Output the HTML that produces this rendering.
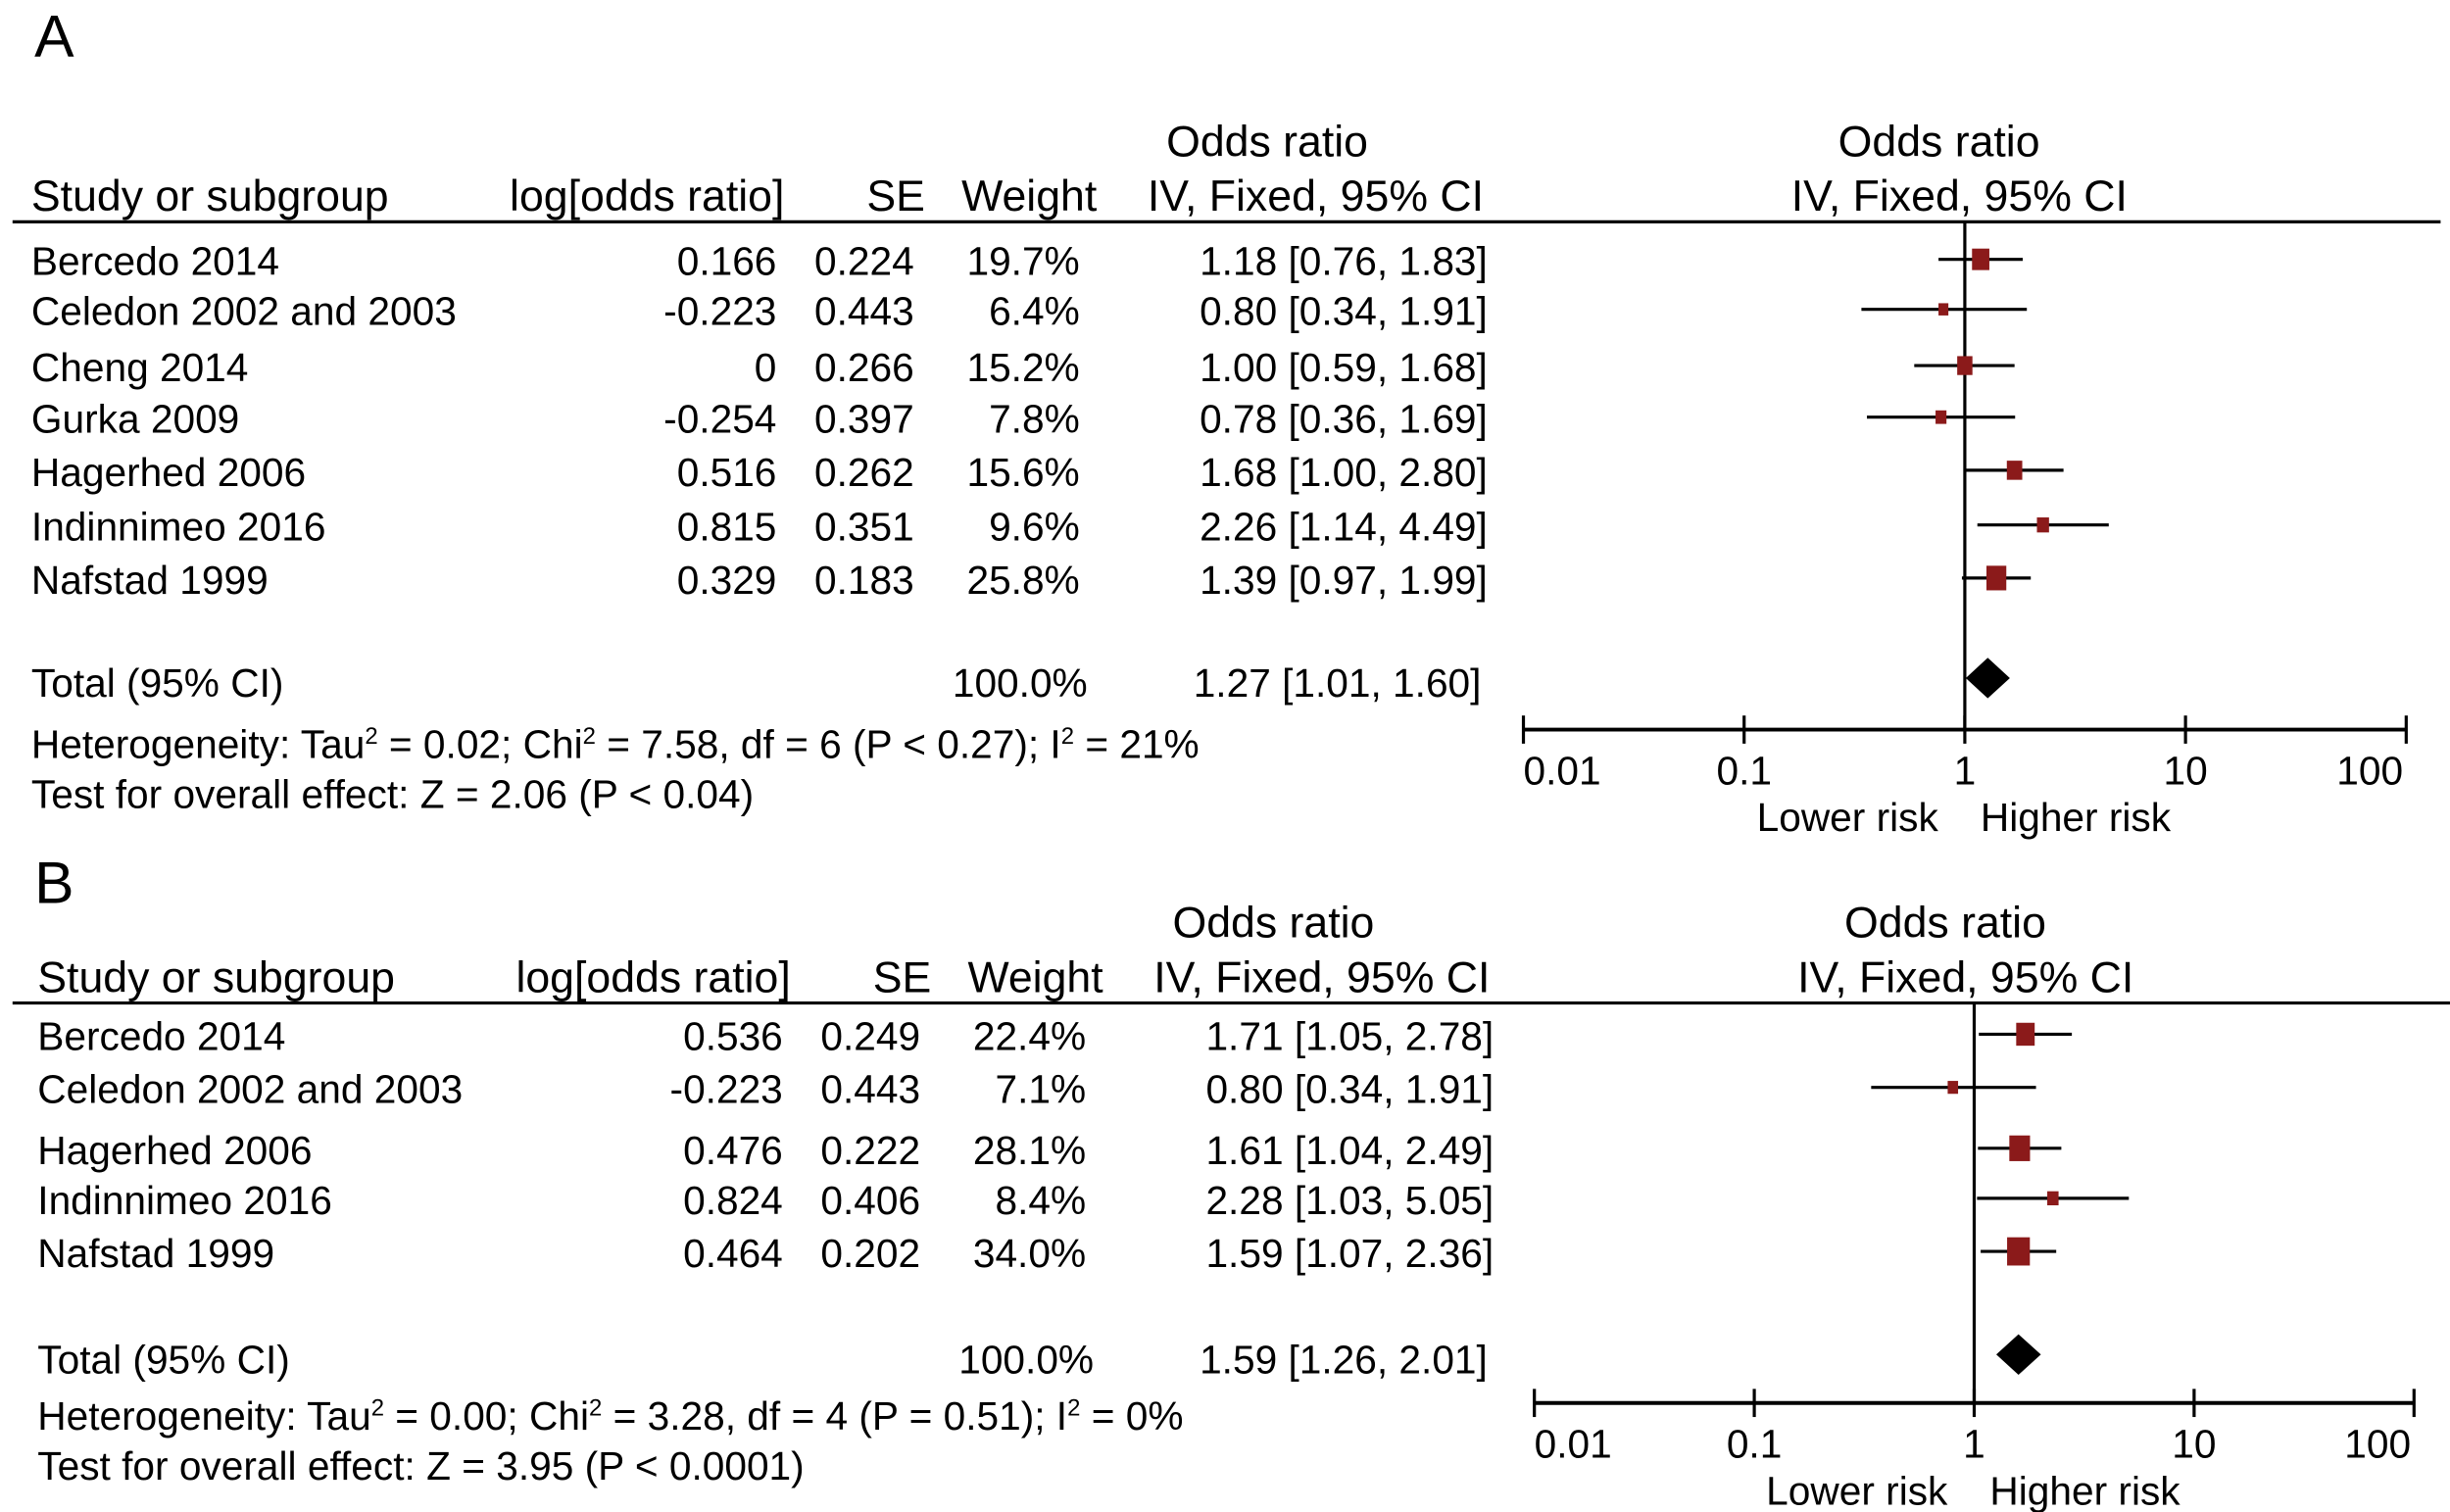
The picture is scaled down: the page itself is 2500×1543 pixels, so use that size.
<!DOCTYPE html>
<html><head><meta charset="utf-8"><style>
html,body{margin:0;padding:0;background:#fff;}
svg{display:block;}
text{font-family:"Liberation Sans",sans-serif;fill:#000;}
</style></head><body>
<svg id="svg" width="2500" height="1543" viewBox="0 0 1568 967.8" xmlns="http://www.w3.org/2000/svg"></svg>
<script>
// Panel A data
const studiesA = ["Bercedo 2014","Celedon 2002 and 2003","Cheng 2014","Gurka 2009","Hagerhed 2006","Indinnimeo 2016","Nafstad 1999"];
const logOrA = ["0.166","-0.223","0","-0.254","0.516","0.815","0.329"];
const seA = ["0.224","0.443","0.266","0.397","0.262","0.351","0.183"];
const weightA = [19.7,6.4,15.2,7.8,15.6,9.6,25.8];
const orA = [1.18,0.80,1.00,0.78,1.68,2.26,1.39];
const loA = [0.76,0.34,0.59,0.36,1.00,1.14,0.97];
const hiA = [1.83,1.91,1.68,1.69,2.80,4.49,1.99];
const totalA = [1.27,1.01,1.60];
// Panel B data
const studiesB = ["Bercedo 2014","Celedon 2002 and 2003","Hagerhed 2006","Indinnimeo 2016","Nafstad 1999"];
const logOrB = ["0.536","-0.223","0.476","0.824","0.464"];
const seB = ["0.249","0.443","0.222","0.406","0.202"];
const weightB = [22.4,7.1,28.1,8.4,34.0];
const orB = [1.71,0.80,1.61,2.28,1.59];
const loB = [1.05,0.34,1.04,1.03,1.07];
const hiB = [2.78,1.91,2.49,5.05,2.36];
const totalB = [1.59,1.26,2.01];
const tickVals = [0.01,0.1,1,10,100];
const tickLabels = ["0.01","0.1","1","10","100"];

const svg = document.getElementById('svg');
const NS = 'http://www.w3.org/2000/svg';
function mk(tag, attrs, parent){const e=document.createElementNS(NS,tag);for(const k in attrs)e.setAttribute(k,attrs[k]);(parent||svg).appendChild(e);return e;}
function txt(s,x,y,size,anchor,name,parent){const t=mk('text',{x:x,y:y,'font-size':size,'text-anchor':anchor||'start'},parent);t.textContent=s;


return t;}
function f2(v){return v.toFixed(2);}

function panel(cfg){
  const g=mk('g',{});
  
  
  const dx=cfg.dx, top=cfg.top;
  txt(cfg.letter,22,cfg.letterY,38,'start','panel-label',g);
  const hl=mk('line',{x1:8,x2:cfg.lineEnd,y1:top,y2:top,stroke:'#000','stroke-width':2},g);
  
  
  const hs=28;
  txt('Study or subgroup',20+dx,top-7,hs,'start','study-header',g);
  txt('log[odds ratio]',502+dx,top-7,hs,'end','log-or-header',g);
  txt('SE',592+dx,top-7,hs,'end','se-header',g);
  txt('Weight',702+dx,top-7,hs,'end','weight-header',g);
  txt('Odds ratio',811+dx,top-42,hs,'middle','or-header',g);
  txt('IV, Fixed, 95% CI',842+dx,top-7,hs,'middle','or-method-header',g);
  txt('Odds ratio',1241+dx,top-42,hs,'middle','plot-or-header',g);
  txt('IV, Fixed, 95% CI',1254+dx,top-7,hs,'middle','plot-method-header',g);
  const fs=25.5;
  const x0=cfg.axX0, x1=cfg.axX1;
  const xs=v=>x0+(Math.log10(v)+2)/4*(x1-x0);
  const x1pos=xs(1);
  const vl=mk('line',{x1:x1pos,x2:x1pos,y1:top,y2:cfg.axY,stroke:'#000','stroke-width':2},g);
  
  
  cfg.names.forEach((n,i)=>{
    const by=cfg.rowY[i];
    txt(n,20+dx,by,fs,'start','study-name',g);
    txt(cfg.logs[i],497+dx,by,fs,'end','log-or-value',g);
    txt(cfg.ses[i],585+dx,by,fs,'end','se-value',g);
    txt(cfg.wts[i].toFixed(1)+'%',691+dx,by,fs,'end','weight-value',g);
    txt(f2(cfg.or[i])+' ['+f2(cfg.lo[i])+', '+f2(cfg.hi[i])+']',952+dx,by,fs,'end','or-ci-value',g);
    const my=by-10;
    const ci=mk('line',{x1:xs(cfg.lo[i]),x2:xs(cfg.hi[i]),y1:my,y2:my,stroke:'#000','stroke-width':2},g);
    
    
    const w=2.5*Math.sqrt(cfg.wts[i]), h=3.1*Math.sqrt(cfg.wts[i]);
    const sq=mk('rect',{x:xs(cfg.or[i])-w/2,y:my-h/2,width:w,height:h,fill:'#8b1a1a'},g);
    
    
  });
  const ty=cfg.totalY;
  txt('Total (95% CI)',20+dx,ty,fs,'start','total-label',g);
  txt('100.0%',696+dx,ty,fs,'end','total-weight',g);
  txt(f2(cfg.total[0])+' ['+f2(cfg.total[1])+', '+f2(cfg.total[2])+']',948+dx,ty,fs,'end','total-or-ci',g);
  const dy=ty-12;
  const d=mk('polygon',{points:[xs(cfg.total[1])+','+dy,xs(cfg.total[0])+','+(dy-13),xs(cfg.total[2])+','+dy,xs(cfg.total[0])+','+(dy+13)].join(' '),fill:'#000'},g);
  
  
  const het=txt('',20+dx,cfg.hetY,fs,'start','heterogeneity-text',g);
  het.innerHTML=cfg.het;
  txt(cfg.test,20+dx,cfg.hetY+32,fs,'start','overall-effect-text',g);
  const ax=mk('line',{x1:x0,x2:x1,y1:cfg.axY,y2:cfg.axY,stroke:'#000','stroke-width':2.5},g);
  
  
  tickVals.forEach((v,i)=>{
    const tk=mk('line',{x1:xs(v),x2:xs(v),y1:cfg.axY-9,y2:cfg.axY+9,stroke:'#000','stroke-width':2},g);
    
    
    const anc=i===0?'start':(i===tickVals.length-1?'end':'middle');
    txt(tickLabels[i],xs(v)+(i===0?0:(i===tickVals.length-1?-2:0)),cfg.axY+35,fs,anc,'x-tick-label',g);
  });
  txt('Lower risk',x1pos-17,cfg.axY+65,fs,'end','lower-risk-label',g);
  txt('Higher risk',x1pos+10,cfg.axY+65,fs,'start','higher-risk-label',g);
}

panel({letter:'A',letterY:36,dx:0,top:142,lineEnd:1562,names:studiesA,logs:logOrA,ses:seA,wts:weightA,or:orA,lo:loA,hi:hiA,total:totalA,
  rowY:[176,208,244,277,311,346,380],totalY:446,hetY:485,axX0:975,axX1:1540,axY:467,
  het:'Heterogeneity: Tau<tspan dy="-9" font-size="15">2</tspan><tspan dy="9"> = 0.02; Chi</tspan><tspan dy="-9" font-size="15">2</tspan><tspan dy="9"> = 7.58, df = 6 (P &lt; 0.27); I</tspan><tspan dy="-9" font-size="15">2</tspan><tspan dy="9"> = 21%</tspan>',
  test:'Test for overall effect: Z = 2.06 (P < 0.04)'});
panel({letter:'B',letterY:578,dx:4,top:642,lineEnd:1568,names:studiesB,logs:logOrB,ses:seB,wts:weightB,or:orB,lo:loB,hi:hiB,total:totalB,
  rowY:[672,706,745,777,811],totalY:879,hetY:915,axX0:982,axX1:1545,axY:898,
  het:'Heterogeneity: Tau<tspan dy="-9" font-size="15">2</tspan><tspan dy="9"> = 0.00; Chi</tspan><tspan dy="-9" font-size="15">2</tspan><tspan dy="9"> = 3.28, df = 4 (P = 0.51); I</tspan><tspan dy="-9" font-size="15">2</tspan><tspan dy="9"> = 0%</tspan>',
  test:'Test for overall effect: Z = 3.95 (P < 0.0001)'});
</script>
</body></html>
